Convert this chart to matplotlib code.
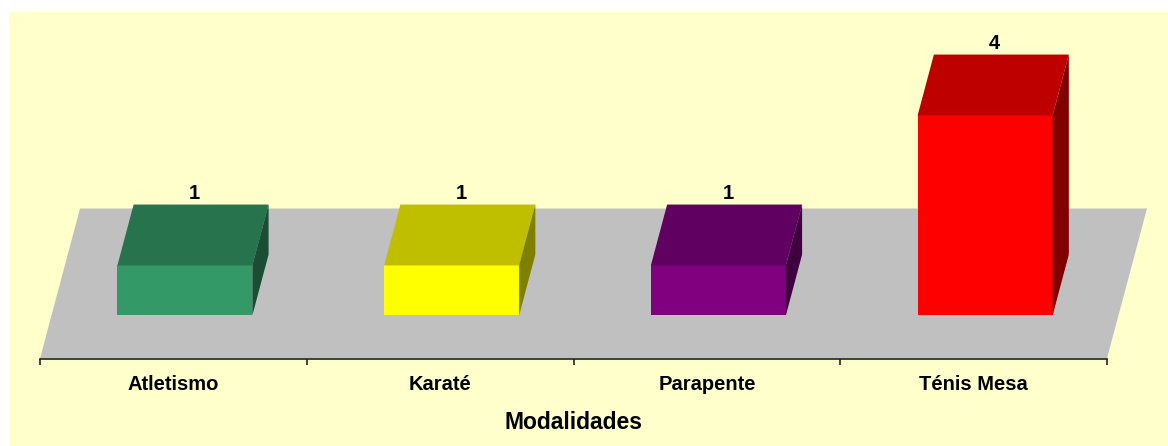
import matplotlib.pyplot as plt
import numpy as np
from matplotlib.patches import Polygon, Rectangle

plt.rcParams['font.family'] = ['Liberation Sans', 'DejaVu Sans']

# data
categories = ['Atletismo', 'Karaté', 'Parapente', 'Ténis Mesa']
values = [1, 1, 1, 4]
front_colors = ['#339966', '#FFFF00', '#800080', '#FF0000']
x_label = 'Modalidades'

# pseudo-3D geometry (data units)
DX, DY = 0.15, 3.0          # floor depth offset
d0, d1 = 0.287, 0.693       # bar depth range
half_w = 0.253


def shade(color, f):
    r, g, b = [int(color[i:i + 2], 16) for i in (1, 3, 5)]
    return (r * f / 255, g * f / 255, b * f / 255)


def P(x, y, d):
    return (x + d * DX, y + d * DY)


fig = plt.figure(figsize=(11.68, 4.46), dpi=100)
fig.patches.append(Rectangle((9 / 1168, 0), 1 - 9 / 1168, 434 / 446,
                             transform=fig.transFigure, facecolor='#FFFFCC',
                             edgecolor='none', zorder=-5))

ax = fig.add_axes([40 / 1168, (446 - 358.5) / 446, 1067 / 1168, (358.5 - 12) / 446])
ax.set_zorder(2)
ax.set_facecolor('none')
n = len(categories)
ax.set_xlim(0, n)
ax.set_ylim(0, (358.5 - 12) / 50)

# floor
ax.add_patch(Polygon([P(0, 0, 0), P(n, 0, 0), P(n, 0, 1), P(0, 0, 1)],
                     closed=True, facecolor='#C0C0C0', edgecolor='none',
                     clip_on=False, zorder=1))

centers = np.arange(n) + 0.5
ax.bar(centers + d0 * DX, values, width=2 * half_w, bottom=d0 * DY,
       color=front_colors, zorder=3, clip_on=False)

for c, v, col in zip(centers, values, front_colors):
    top = [P(c - half_w, v, d0), P(c + half_w, v, d0), P(c + half_w, v, d1), P(c - half_w, v, d1)]
    side = [P(c + half_w, 0, d0), P(c + half_w, 0, d1), P(c + half_w, v, d1), P(c + half_w, v, d0)]
    ax.add_patch(Polygon(top, closed=True, facecolor=shade(col, 0.75), edgecolor='none',
                         clip_on=False, zorder=3))
    ax.add_patch(Polygon(side, closed=True, facecolor=shade(col, 0.5), edgecolor='none',
                         clip_on=False, zorder=3))
    lx, ly = P(c, v, (d0 + d1) / 2)
    ax.annotate(str(v), xy=(lx + 0.005, v + d1 * DY), xytext=(0, 4), textcoords='offset points',
                ha='center', va='baseline', fontsize=14.5, fontweight='bold',
                annotation_clip=False)

for s in ['top', 'left', 'right']:
    ax.spines[s].set_visible(False)
ax.spines['bottom'].set_color('#222222')
ax.spines['bottom'].set_linewidth(1.2)
ax.set_yticks([])
ax.set_xticks(np.arange(n + 1))
ax.set_xticklabels([])
ax.tick_params(axis='x', which='major', length=4, width=1.2, color='#222222', direction='out')
ax.set_xticks(centers, minor=True)
ax.set_xticklabels(categories, minor=True, fontsize=14.5, fontweight='bold')
ax.tick_params(axis='x', which='minor', length=0, pad=12)
ax.set_xlabel(x_label, fontsize=16.5, fontweight='bold', labelpad=12)

fig.savefig('out.png', dpi=100)
